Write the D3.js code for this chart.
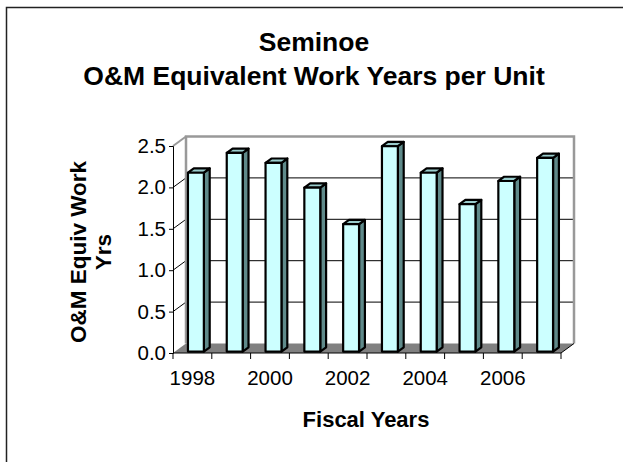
<!DOCTYPE html>
<html lang="en">
<head>
  <meta charset="UTF-8" />
  <title>Seminoe O&amp;M Equivalent Work Years per Unit</title>
  <script src="https://d3js.org/d3.v7.min.js"></script>
  <style>
    html, body { margin: 0; padding: 0; background: #fff; }
    svg { display: block; font-family: "Liberation Sans", Arial, sans-serif; }
  </style>
</head>
<body>
  <svg width="623" height="462"></svg>
  <script>
    // ---------------------------------------------------------
    // Data
    // ---------------------------------------------------------
    const years = [1998, 1999, 2000, 2001, 2002, 2003, 2004, 2005, 2006, 2007];
    const workYears = [2.16, 2.40, 2.28, 1.98, 1.54, 2.48, 2.16, 1.78, 2.06, 2.34];
    const yTicks = [0, 0.5, 1.0, 1.5, 2.0, 2.5];
    const xLabelYears = [1998, 2000, 2002, 2004, 2006];

    const svg = d3.select("svg");

    // outer frame (only left/top edges fall inside the picture)
    svg.append("rect")
      .attr("x", 6.5).attr("y", 7.5)
      .attr("width", 800).attr("height", 800)
      .attr("fill", "none").attr("stroke", "#222").attr("stroke-width", 1.5);

    // ---------------------------------------------------------
    // Scales + pseudo-3D projection
    // ---------------------------------------------------------
    const x = d3.scaleBand().domain(years).range([173, 561]).padding(0);
    const y = d3.scaleLinear().domain([0, 2.5]).range([353, 146]);
    const depthX = 13, depthY = -9.5;

    // point at category position px, value v, depth z (0 = front, 1 = back wall)
    const P = (px, v, z) => [px + z * depthX, y(v) + z * depthY];
    const poly = pts => pts.map(p => p.join(",")).join(" ");

    const x0 = x.range()[0], x1 = x.range()[1];
    const vMax = y.domain()[1];

    // back wall
    svg.append("polygon")
      .attr("points", poly([P(x0, 0, 1), P(x0, vMax, 1), P(x1, vMax, 1), P(x1, 0, 1)]))
      .attr("fill", "#fff");

    // gridlines on back wall + side wall diagonals
    yTicks.filter(t => t > 0 && t < vMax).forEach(t => {
      svg.append("line")
        .attr("x1", P(x0, t, 1)[0]).attr("y1", P(x0, t, 1)[1])
        .attr("x2", P(x1, t, 1)[0]).attr("y2", P(x1, t, 1)[1])
        .attr("stroke", "#000").attr("stroke-width", 1);
      svg.append("line")
        .attr("x1", P(x0, t, 0)[0]).attr("y1", P(x0, t, 0)[1])
        .attr("x2", P(x0, t, 1)[0]).attr("y2", P(x0, t, 1)[1])
        .attr("stroke", "#000").attr("stroke-width", 1);
    });

    // wall edges (gray)
    svg.append("polyline")
      .attr("points", poly([P(x0, 0, 1), P(x0, vMax, 1), P(x1, vMax, 1), P(x1, 0, 1)]))
      .attr("fill", "none").attr("stroke", "#999").attr("stroke-width", 2.5);
    svg.append("line")
      .attr("x1", P(x0, vMax, 0)[0]).attr("y1", P(x0, vMax, 0)[1])
      .attr("x2", P(x0, vMax, 1)[0]).attr("y2", P(x0, vMax, 1)[1])
      .attr("stroke", "#999").attr("stroke-width", 2);

    // floor
    svg.append("polygon")
      .attr("points", poly([P(x0, 0, 0), P(x0, 0, 1), P(x1, 0, 1), P(x1, 0, 0)]))
      .attr("fill", "#808080");
    svg.append("line")
      .attr("x1", P(x1, 0, 0)[0]).attr("y1", P(x1, 0, 0)[1])
      .attr("x2", P(x1, 0, 1)[0]).attr("y2", P(x1, 0, 1)[1])
      .attr("stroke", "#000").attr("stroke-width", 1);

    // ---------------------------------------------------------
    // Bars
    // ---------------------------------------------------------
    const bw = x.bandwidth();
    const zFront = 0.15, zBack = 0.6;
    const bars = svg.append("g")
      .attr("stroke", "#000").attr("stroke-width", 2.2).attr("stroke-linejoin", "round");

    years.forEach((yr, i) => {
      const v = workYears[i];
      const bx0 = x(yr) + bw * 0.335;
      const bx1 = bx0 + bw * 0.41;
      // side face
      bars.append("polygon")
        .attr("points", poly([P(bx1, 0, zFront), P(bx1, v, zFront), P(bx1, v, zBack), P(bx1, 0, zBack)]))
        .attr("fill", "#5f8a8a");
      // top face
      bars.append("polygon")
        .attr("points", poly([P(bx0, v, zFront), P(bx0, v, zBack), P(bx1, v, zBack), P(bx1, v, zFront)]))
        .attr("fill", "#99cccc");
      // front face
      bars.append("polygon")
        .attr("points", poly([P(bx0, 0, zFront), P(bx0, v, zFront), P(bx1, v, zFront), P(bx1, 0, zFront)]))
        .attr("fill", "#ccffff");
    });

    // ---------------------------------------------------------
    // Axes
    // ---------------------------------------------------------
    const yAxis = svg.append("g")
      .attr("transform", `translate(${x0},0)`)
      .call(d3.axisLeft(y).tickValues(yTicks).tickFormat(d3.format(".1f")).tickSize(4).tickPadding(3));
    yAxis.selectAll("text").attr("font-size", 20.5).attr("fill", "#000").attr("font-family", "Liberation Sans, Arial, sans-serif");
    yAxis.select(".domain").attr("stroke", "#000");
    yAxis.selectAll(".tick line").attr("stroke", "#000");

    const xAxis = svg.append("g").attr("transform", `translate(0,${y(0)})`);
    xAxis.append("line")
      .attr("x1", x0).attr("x2", x1).attr("stroke", "#000");
    xAxis.selectAll(".xtick")
      .data(years.map(d => x(d)).concat([x1]))
      .join("line")
      .attr("x1", d => d).attr("x2", d => d)
      .attr("y1", 0).attr("y2", 6)
      .attr("stroke", "#000");
    xAxis.selectAll(".xlabel")
      .data(xLabelYears)
      .join("text")
      .attr("x", d => x(d) + bw / 2)
      .attr("y", 32)
      .attr("text-anchor", "middle")
      .attr("font-size", 20.5)
      .text(d => d);

    // ---------------------------------------------------------
    // Titles
    // ---------------------------------------------------------
    const title = svg.append("text")
      .attr("text-anchor", "middle").attr("font-weight", "bold").attr("font-size", 26.5);
    title.append("tspan").attr("x", 314).attr("y", 51).text("Seminoe");
    title.append("tspan").attr("x", 314).attr("y", 85).text("O&M Equivalent Work Years per Unit");

    svg.append("text")
      .attr("x", 366).attr("y", 427)
      .attr("text-anchor", "middle").attr("font-weight", "bold").attr("font-size", 22)
      .text("Fiscal Years");

    const yTitle = svg.append("text")
      .attr("transform", "translate(0,252) rotate(-90)")
      .attr("text-anchor", "middle").attr("font-weight", "bold").attr("font-size", 22.5);
    yTitle.append("tspan").attr("x", 0).attr("y", 86).text("O&M Equiv Work");
    yTitle.append("tspan").attr("x", 0).attr("y", 111).text("Yrs");
  </script>
</body>
</html>
